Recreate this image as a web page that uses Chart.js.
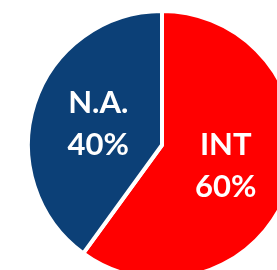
<!DOCTYPE html>
<html>
<head>
<meta charset="utf-8">
<script src="https://cdn.jsdelivr.net/npm/chart.js@4"></script>
<style>
  html, body { margin: 0; padding: 0; background: #fff; overflow: hidden; width: 277px; height: 270px; }
  #wrap { position: absolute; left: 26px; top: 9px; width: 272px; height: 272px; }
</style>
</head>
<body>
<div id="wrap"><canvas id="myChart"></canvas></div>
<script>
// data
const regions = ['INT', 'N.A.'];
const shares = [60, 40];
const sliceColors = ['#FF0000', '#0C4077'];

// label plugin: name + percent at each slice's centroid
const sliceLabels = {
  id: 'sliceLabels',
  afterDatasetsDraw(chart) {
    const ctx = chart.ctx;
    const meta = chart.getDatasetMeta(0);
    const total = shares.reduce((a, b) => a + b, 0);
    ctx.save();
    ctx.fillStyle = '#fff';
    ctx.font = 'bold 31px Lato';
    ctx.textAlign = 'center';
    ctx.textBaseline = 'middle';
    meta.data.forEach(function(arc, i) {
      const p = arc.tooltipPosition();
      ctx.fillText(regions[i], p.x, p.y - 21);
      ctx.fillText(Math.round(shares[i] / total * 100) + '%', p.x, p.y + 21);
    });
    ctx.restore();
  }
};

var ctx = document.getElementById('myChart').getContext('2d');
var chart = new Chart(ctx, {
  type: 'pie',
  data: {
    labels: regions,
    datasets: [{
      data: shares,
      backgroundColor: sliceColors,
      borderColor: '#fff',
      borderWidth: 4
    }]
  },
  options: {
    responsive: true,
    maintainAspectRatio: false,
    animation: false,
    layout: { padding: 0 },
    plugins: {
      legend: { display: false },
      tooltip: { enabled: false }
    }
  },
  plugins: [sliceLabels]
});
</script>
</body>
</html>
